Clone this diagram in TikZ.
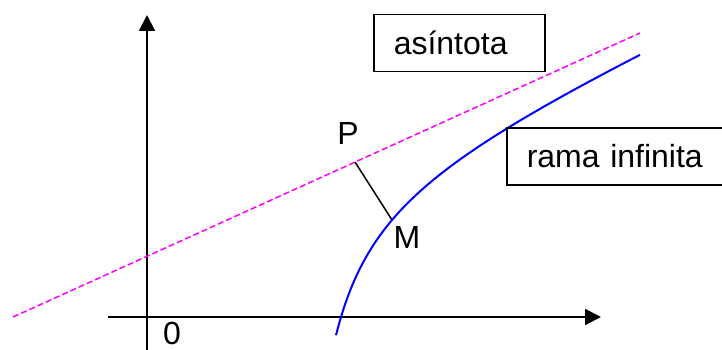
\documentclass[tikz,border=0pt]{standalone}
\usepackage{fontspec}
\setmainfont{Liberation Sans}
\usetikzlibrary{arrows.meta}
\definecolor{asymag}{RGB}{255,0,255}
\definecolor{curveblue}{RGB}{0,0,255}
\tikzset{
  axis/.style={line width=2pt,-{Triangle[length=16pt,width=16pt]}},
  asym/.style={asymag,line width=1.5pt,dash pattern=on 6pt off 3pt},
  branch/.style={curveblue,line width=2pt},
  labelbox/.style={draw,line width=1.5pt,anchor=north west,align=left,inner xsep=20pt,minimum height=57pt,font=\fontsize{32}{38}\selectfont},
  lbl/.style={font=\fontsize{32}{38}\selectfont,inner sep=0pt,text depth=0pt}
}
\begin{document}
\begin{tikzpicture}[x=1pt,y=-1pt]
\useasboundingbox (0,0) rectangle (722,350);
% axes
\coordinate (ybot) at (147,350);
\coordinate (ytop) at (147,15);
\coordinate (xleft) at (108,317);
\coordinate (xright) at (601,317);
\draw[axis] (ybot) -- (ytop);
\draw[axis] (xleft) -- (xright);
% asymptote
\coordinate (a1) at (13,317);
\coordinate (a2) at (640,33);
\draw[asym] (a1) -- (a2);
% infinite branch (hyperbola-like, approaching the asymptote)
\draw[branch] plot[domain=336:640,samples=120,smooth] ({\x},{350-(27.1+0.453*\x-7668/(\x-289.4))});
% segment PM
\coordinate (pfoot) at (355,162);
\coordinate (mpt) at (392,220);
\draw[line width=1.5pt] (pfoot) -- (mpt);
% labels
\node[lbl] (P) at (348,133) {P};
\node[lbl] (M) at (407,237) {M};
\node[lbl] (zero) at (172,333) {0};
\node[labelbox,text width=131pt] (asin) at (373,14) {asíntota};
\node[labelbox,text width=179pt] (rama) at (506,127) {rama infinita};
\end{tikzpicture}
\end{document}
